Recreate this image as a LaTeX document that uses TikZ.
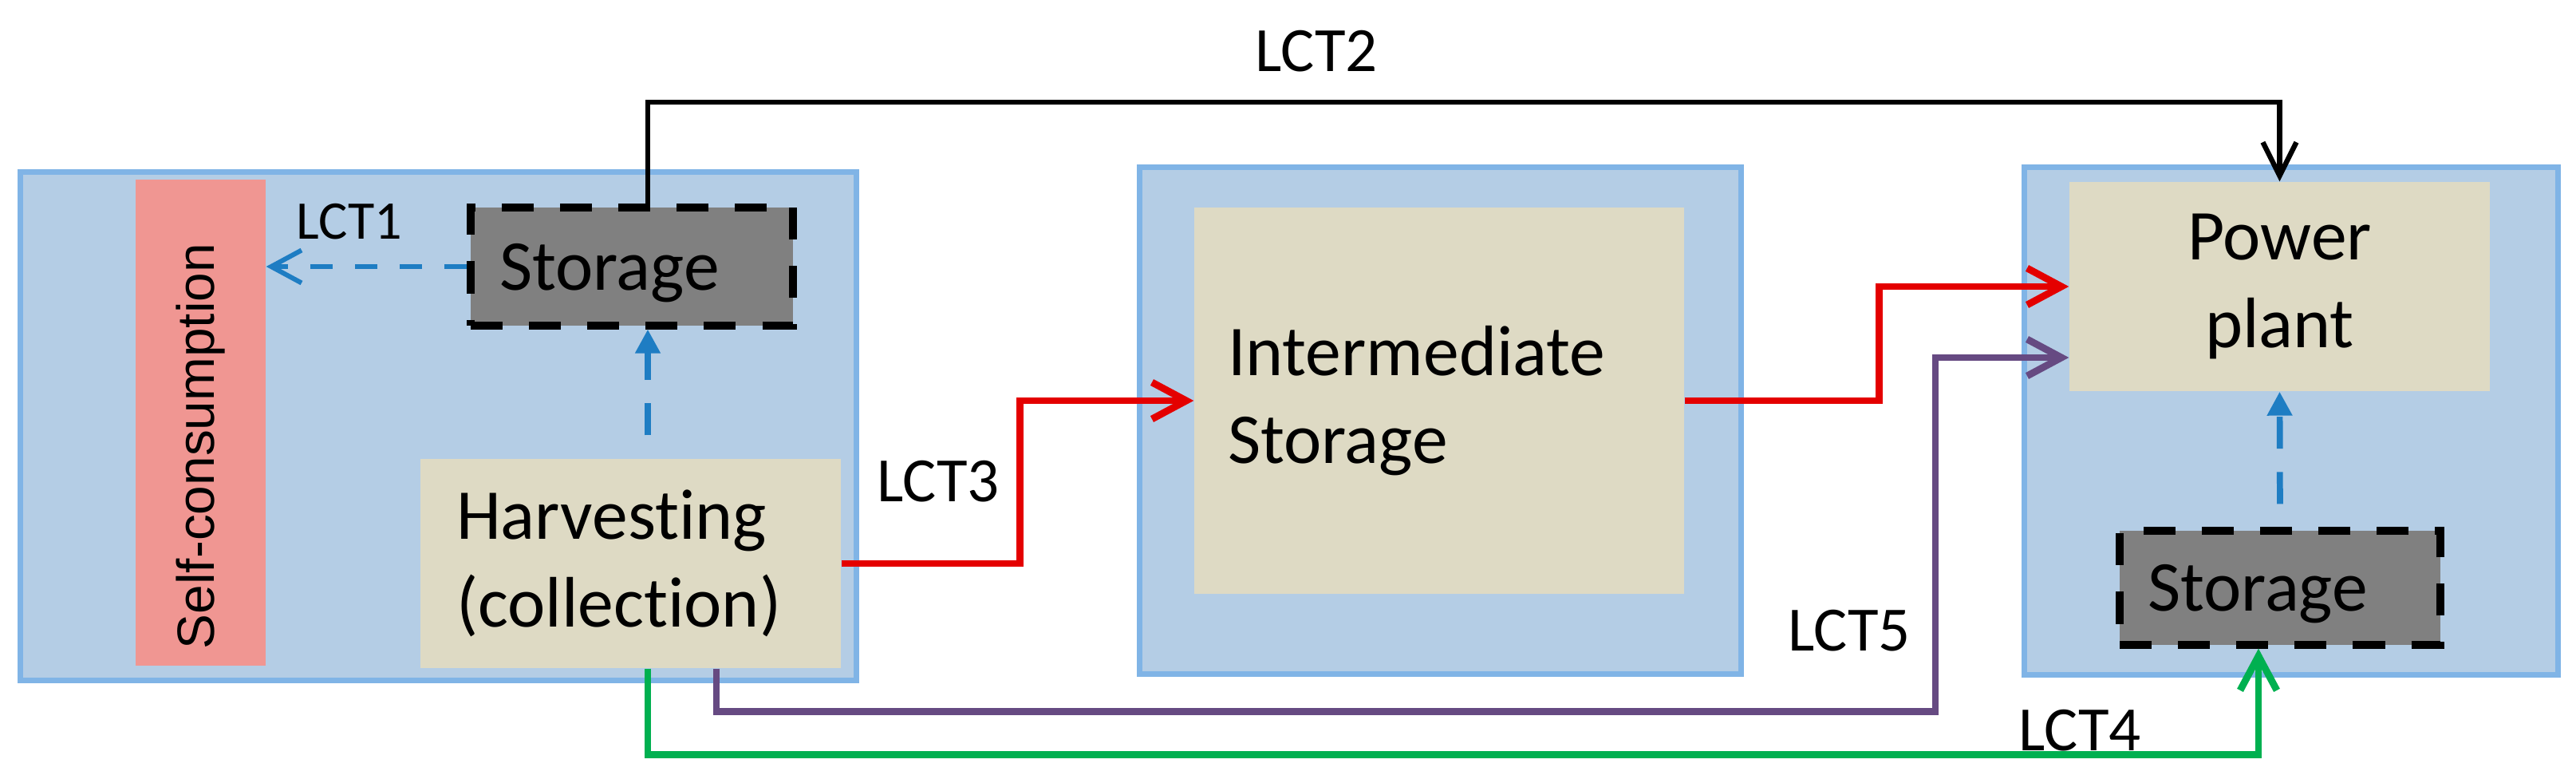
\documentclass[tikz,border=0pt]{standalone}
\usepackage{fontspec}
\setmainfont{Carlito}[Ligatures = NoCommon]
\newfontfamily\arialfont{Liberation Sans}
\usetikzlibrary{arrows.meta}

\definecolor{areafill}{RGB}{180,205,229}
\definecolor{arealine}{RGB}{128,180,230}
\definecolor{tanfill}{RGB}{222,218,196}
\definecolor{pinkfill}{RGB}{240,150,146}
\definecolor{storefill}{RGB}{128,128,128}
\definecolor{lctred}{RGB}{228,0,0}
\definecolor{lctpurple}{RGB}{102,74,130}
\definecolor{lctgreen}{RGB}{0,176,80}
\definecolor{lctblue}{RGB}{30,125,195}

\tikzset{
    area/.style = {draw = arealine, fill = areafill, line width = 2pt, inner sep = 0pt},
    tanbox/.style = {fill = tanfill, inner sep = 0pt, font = \fontsize{25.5}{31.5}\selectfont},
    storebox/.style = {draw, fill = storefill, line width = 2.6pt, dash pattern = on 11.4pt off 9.4pt,
        inner sep = 0pt, text width = 3.32cm, align = left, text depth = 0pt,
        font = \fontsize{25.5}{31.5}\selectfont},
    lct/.style = {inner sep = 0pt, font = \fontsize{22.5}{27}\selectfont},
    flow/.style = {line width = 2.5pt, -{Straight Barb[length = 4.3mm, width = 4.6mm]}},
    local/.style = {draw = lctblue, line width = 2.2pt, dash pattern = on 11.4pt off 8.3pt,
        -{Triangle[length = 3mm, width = 3mm]}, shorten <= 2.9mm},
}

\begin{document}
\begin{tikzpicture}
    \useasboundingbox (0, 0) rectangle (32.29, 9.8);
    \coordinate (col) at (8.12, 0);
    \coordinate (top) at (0, 8.52);

    \node (farm) [area, minimum width = 10.48cm, minimum height = 6.37cm] at (5.495, 4.46) {};
    \node (depot) [area, minimum width = 7.54cm, minimum height = 6.35cm] at (18.055, 4.53) {};
    \node (site) [area, minimum width = 6.69cm, minimum height = 6.36cm] at (28.72, 4.525) {};

    \node (self) [fill = pinkfill, rotate = 90, minimum width = 6.09cm, minimum height = 1.63cm,
        inner sep = 0pt, text width = 5.67cm, align = left,
        font = \arialfont\fontsize{18.7}{22}\selectfont] at (2.515, 4.505) {Self-consumption};
    \node (stor1) [storebox, minimum width = 4.04cm, minimum height = 1.48cm] at (7.92, 6.46) {Storage};
    \node (harvest) [tanbox, minimum width = 5.27cm, minimum height = 2.62cm, text width = 4.37cm,
        align = left] at (7.905, 2.74) {Harvesting\\(collection)};
    \node (inter) [tanbox, minimum width = 6.14cm, minimum height = 4.84cm, text width = 5.30cm,
        align = left] at (18.04, 4.78) {Intermediate\\Storage};
    \node (plant) [tanbox, minimum width = 5.27cm, minimum height = 2.62cm, align = center]
        at (28.575, 6.21) {Power\\plant};
    \node (stor2) [storebox, minimum width = 4.02cm, minimum height = 1.43cm] at (28.58, 2.435) {Storage};

    \draw[lctblue, line width = 1.7pt, dash pattern = on 8pt off 8pt,
        -{Straight Barb[length = 3.8mm, width = 4.1mm]}] (stor1.west) -- (stor1.west -| self.south);
    \draw[local] (col |- harvest.north) -- (col |- stor1.south);
    \draw[local] (stor2.north) -- (plant.south);
    \draw[line width = 1.8pt, -{Straight Barb[length = 4.2mm, width = 4.2mm]}]
        (col |- stor1.north) -- (col |- top) -| (plant.north);
    \draw[flow, lctred] (harvest.east) -- ++(2.24, 0) |- (inter.west);
    \draw[flow, lctred] (inter.east) -- ++(2.44, 0) |- (plant.west);
    \draw[flow, lctpurple] ([xshift = 1.075cm]harvest.south) |- ++(15.28, -0.54)
        |- ([yshift = -0.89cm]plant.west);
    \draw[flow, lctgreen] (col |- harvest.south) -- ++(0, -1.08) -| ([xshift = -0.27cm]stor2.south);

    \node (lct1) [lct, font = \fontsize{19.4}{23}\selectfont] at (4.38, 7.02) {LCT1};
    \node (lct2) [lct] at (16.50, 9.16) {LCT2};
    \node (lct3) [lct] at (11.76, 3.77) {LCT3};
    \node (lct5) [lct] at (23.18, 1.90) {LCT5};
    \node (lct4) [lct] at (26.07, 0.65) {LCT4};
\end{tikzpicture}
\end{document}
